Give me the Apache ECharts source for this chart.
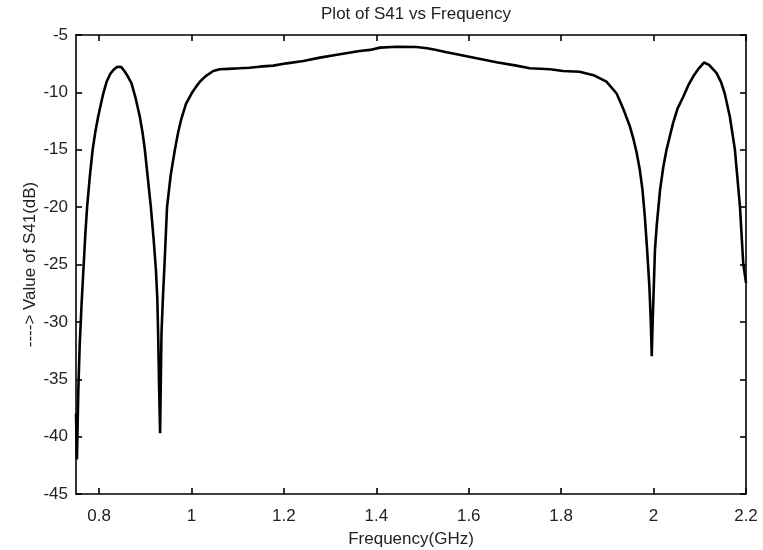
<!DOCTYPE html>
<html>
<head>
<meta charset="utf-8">
<script src="https://cdn.jsdelivr.net/npm/echarts@6/dist/echarts.min.js"></script>
<style>html,body{margin:0;padding:0;background:#fff}#c{width:763px;height:550px}</style>
</head>
<body>
<div id="c"></div>
<script>
var freq = [0.750,0.752,0.755,0.758,0.762,0.766,0.770,0.774,0.780,0.786,0.792,0.798,0.804,0.809,0.816,0.824,0.832,0.838,0.843,0.848,0.854,0.862,0.870,0.879,0.888,0.894,0.899,0.905,0.912,0.918,0.923,0.926,0.928,0.930,0.932,0.935,0.938,0.942,0.947,0.955,0.964,0.971,0.978,0.988,1.000,1.010,1.018,1.030,1.047,1.061,1.080,1.104,1.125,1.147,1.177,1.206,1.242,1.278,1.321,1.364,1.386,1.408,1.444,1.487,1.510,1.530,1.552,1.574,1.617,1.660,1.703,1.732,1.776,1.804,1.840,1.870,1.898,1.920,1.935,1.949,1.956,1.963,1.970,1.976,1.981,1.986,1.991,1.994,1.996,1.998,2.000,2.003,2.007,2.014,2.021,2.028,2.042,2.052,2.064,2.075,2.086,2.098,2.109,2.120,2.136,2.146,2.154,2.165,2.176,2.187,2.194,2.200];
var s41 = [-38.0,-42.0,-36.0,-32.0,-28.5,-25.5,-22.5,-20.0,-17.3,-15.0,-13.4,-12.1,-11.0,-10.1,-9.1,-8.4,-8.0,-7.8,-7.76,-7.8,-8.1,-8.6,-9.2,-10.5,-12.1,-13.5,-15.0,-17.3,-20.0,-22.8,-25.5,-28.0,-31.5,-36.0,-39.7,-31.0,-28.0,-24.6,-20.0,-17.2,-15.0,-13.5,-12.3,-11.0,-10.1,-9.5,-9.07,-8.6,-8.14,-7.99,-7.95,-7.9,-7.85,-7.76,-7.67,-7.47,-7.27,-6.97,-6.68,-6.39,-6.3,-6.1,-6.02,-6.05,-6.15,-6.3,-6.5,-6.68,-7.03,-7.38,-7.67,-7.9,-7.99,-8.14,-8.2,-8.5,-9.07,-10.1,-11.5,-13.0,-14.0,-15.2,-16.7,-18.5,-20.8,-23.7,-27.0,-30.0,-33.0,-30.0,-27.5,-23.7,-21.5,-18.5,-16.5,-15.0,-12.7,-11.4,-10.4,-9.4,-8.6,-7.9,-7.4,-7.6,-8.3,-9.1,-10.1,-12.1,-15.0,-20.0,-24.9,-26.6];
var xTicks = [0.8,1,1.2,1.4,1.6,1.8,2,2.2];
var yTicks = [-45,-40,-35,-30,-25,-20,-15,-10,-5];

var data = freq.map(function(f,i){return [f, s41[i]];});
var font = '"Liberation Sans Narrow", "Liberation Sans", Arial, sans-serif';
var fs = 17;
var txt = '#222';
var lineStyle = {color:'#000', width:1.6};
var chart = echarts.init(document.getElementById('c'), null, {renderer:'canvas'});
chart.setOption({
  animation:false,
  backgroundColor:'#fff',
  title:{text:'Plot of S41 vs Frequency', left:411, top:1, textAlign:'center',
    textStyle:{fontFamily:font, fontSize:fs, fontWeight:'normal', color:txt}},
  grid:{left:76, right:17, top:35, bottom:56, containLabel:false, outerBoundsMode:'none'},
  xAxis:[{
    type:'value', min:0.75, max:2.2, position:'bottom',
    name:'Frequency(GHz)', nameLocation:'middle', nameGap:37,
    nameTextStyle:{fontFamily:font, fontSize:fs, color:txt},
    axisLine:{show:true, onZero:false, lineStyle:lineStyle},
    axisTick:{show:true, inside:true, length:6, customValues:xTicks, lineStyle:lineStyle},
    axisLabel:{show:true, customValues:xTicks, fontFamily:font, fontSize:fs, color:txt, margin:14},
    splitLine:{show:false}
  },{
    type:'value', min:0.75, max:2.2, position:'top',
    axisLine:{show:true, onZero:false, lineStyle:lineStyle},
    axisTick:{show:true, inside:true, length:6, customValues:xTicks, lineStyle:lineStyle},
    axisLabel:{show:false},
    splitLine:{show:false}
  }],
  yAxis:[{
    type:'value', min:-45, max:-5, interval:5, position:'left',
    name:'----> Value of S41(dB)', nameLocation:'middle', nameGap:37, nameMoveOverlap:false,
    nameTextStyle:{fontFamily:font, fontSize:fs, color:txt},
    axisLine:{show:true, onZero:false, lineStyle:lineStyle},
    axisTick:{show:true, inside:true, length:6, lineStyle:lineStyle},
    axisLabel:{show:true, fontFamily:font, fontSize:fs, color:txt, margin:8},
    splitLine:{show:false}
  },{
    type:'value', min:-45, max:-5, interval:5, position:'right',
    axisLine:{show:true, onZero:false, lineStyle:lineStyle},
    axisTick:{show:true, inside:true, length:6, lineStyle:lineStyle},
    axisLabel:{show:false},
    splitLine:{show:false}
  }],
  series:[{
    type:'line', data:data, xAxisIndex:0, yAxisIndex:0,
    showSymbol:false, smooth:false,
    lineStyle:{color:'#000', width:2.6},
    clip:true
  }]
});
</script>
</body>
</html>
